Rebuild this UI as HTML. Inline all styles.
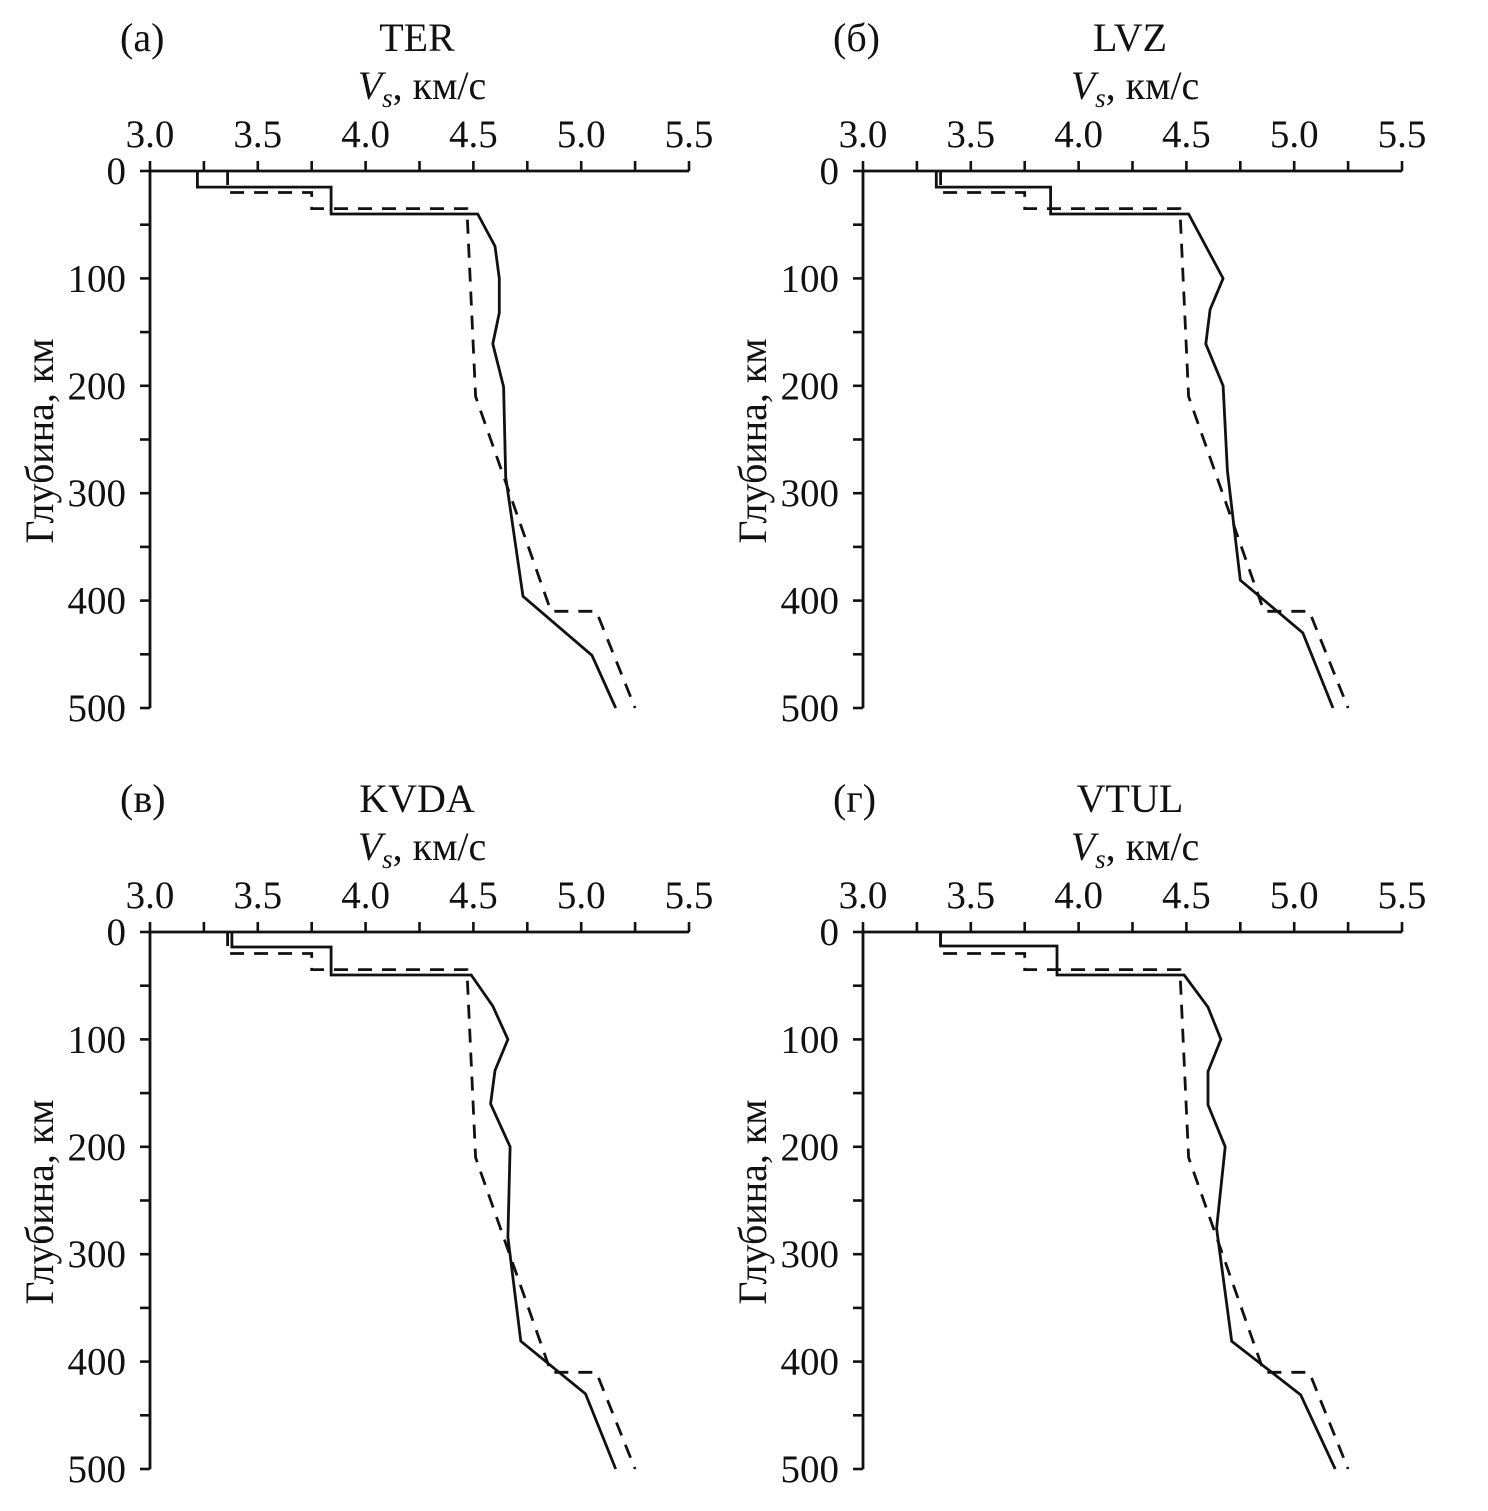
<!DOCTYPE html>
<html><head><meta charset="utf-8"><style>
body{margin:0;background:#fff;}
svg text{font-family:"Liberation Serif",serif;fill:#111;}
</style></head><body>
<svg id="fig" width="1488" height="1506" viewBox="0 0 1488 1506" xmlns="http://www.w3.org/2000/svg"></svg>
<script>
const panelIds = ["a","b","c","d"];
const panelLetters = ["(а)","(б)","(в)","(г)"];
const stationNames = ["TER","LVZ","KVDA","VTUL"];
const xTicks = [3.0,3.5,4.0,4.5,5.0,5.5];
const xTickLabels = ["3.0","3.5","4.0","4.5","5.0","5.5"];
const yTicks = [0,100,200,300,400,500];
const yTickLabels = ["0","100","200","300","400","500"];
// reference model (dashed)
const refDepth = [0,20,20,35,35,210,410,410,500];
const refVs = [3.36,3.36,3.75,3.75,4.47,4.51,4.86,5.07,5.25];
// station models (solid)
const terDepth = [0,15,15,40,40,70,100,132,161,201,285,396,451,500];
const terVs = [3.22,3.22,3.84,3.84,4.52,4.60,4.62,4.62,4.59,4.64,4.65,4.73,5.05,5.16];
const lvzDepth = [0,15,15,40,40,100,129,161,200,279,381,430,500];
const lvzVs = [3.34,3.34,3.87,3.87,4.51,4.67,4.61,4.59,4.67,4.69,4.75,5.04,5.18];
const kvdaDepth = [0,14,14,40,40,69,100,129,160,200,284,381,430,500];
const kvdaVs = [3.38,3.38,3.84,3.84,4.49,4.59,4.66,4.60,4.58,4.67,4.66,4.72,5.02,5.16];
const vtulDepth = [0,13,13,40,40,70,100,130,161,200,276,381,431,500];
const vtulVs = [3.36,3.36,3.90,3.90,4.49,4.60,4.66,4.60,4.60,4.68,4.64,4.71,5.03,5.19];

const stationDepths = [terDepth,lvzDepth,kvdaDepth,vtulDepth];
const stationVs = [terVs,lvzVs,kvdaVs,vtulVs];
const origins = [[150,171],[863,171],[150,932],[863,932]];
const W = 539, H = 537;
const NS = "http://www.w3.org/2000/svg";
const svg = document.getElementById("fig");
function mk(tag, attrs, parent){
  const e = document.createElementNS(NS, tag);
  for (const k in attrs) e.setAttribute(k, attrs[k]);
  parent.appendChild(e);
  return e;
}
panelIds.forEach((pid, i) => {
  const [ox, oy] = origins[i];
  const xs = v => ox + (v - 3.0) / 2.5 * W;
  const ys = d => oy + d / 500 * H;
  const g = mk("g", {}, svg);
  
  
  const ax = mk("path", {d:`M${ox},${oy+H} L${ox},${oy} L${ox+W},${oy}`, fill:"none", stroke:"#111", "stroke-width":2.8}, g);
  
  
  for (let k = 0; k <= 10; k++) {
    const x = xs(3 + k * 0.25);
    const t = mk("line", {x1:x, y1:oy, x2:x, y2:oy-10, stroke:"#111", "stroke-width":2.6}, g);
    
    
  }
  xTicks.forEach((v, j) => {
    const t = mk("text", {x:xs(v), y:oy-24, "font-size":39, "text-anchor":"middle"}, g);
    t.textContent = xTickLabels[j];
    
    
  });
  for (let k = 0; k <= 10; k++) {
    const y = ys(k * 50);
    const t = mk("line", {x1:ox, y1:y, x2:ox-10, y2:y, stroke:"#111", "stroke-width":2.6}, g);
    
    
  }
  yTicks.forEach((d, j) => {
    const t = mk("text", {x:ox-24, y:ys(d)+13, "font-size":39, "text-anchor":"end"}, g);
    t.textContent = yTickLabels[j];
    
    
  });
  const lt = mk("text", {x:ox-30, y:oy-120, "font-size":40}, g);
  lt.textContent = panelLetters[i];
  
  
  const st = mk("text", {x:ox+267, y:oy-120, "font-size":40, "text-anchor":"middle"}, g);
  st.textContent = stationNames[i];
  
  
  const xt = mk("text", {x:ox+272, y:oy-72, "font-size":40, "text-anchor":"middle"}, g);
  xt.innerHTML = '<tspan font-style="italic">V</tspan><tspan font-style="italic" font-size="27" dy="8">s</tspan><tspan dy="-8">, км/с</tspan>';
  
  
  const yt = mk("text", {x:0, y:0, "font-size":40, "text-anchor":"middle", transform:`translate(${ox-97},${oy+270}) rotate(-90)`}, g);
  yt.textContent = "Глубина, км";
  
  
  const rp = mk("path", {d: refDepth.map((d,j)=>(j?"L":"M")+xs(refVs[j]).toFixed(1)+","+ys(d).toFixed(1)).join(" "), fill:"none", stroke:"#111", "stroke-width":2.8, "stroke-dasharray":"14 10"}, g);
  
  
  const dd = stationDepths[i], vv = stationVs[i];
  const sp = mk("path", {d: dd.map((d,j)=>(j?"L":"M")+xs(vv[j]).toFixed(1)+","+ys(d).toFixed(1)).join(" "), fill:"none", stroke:"#111", "stroke-width":2.8}, g);
  
  
});
</script>
</body></html>
